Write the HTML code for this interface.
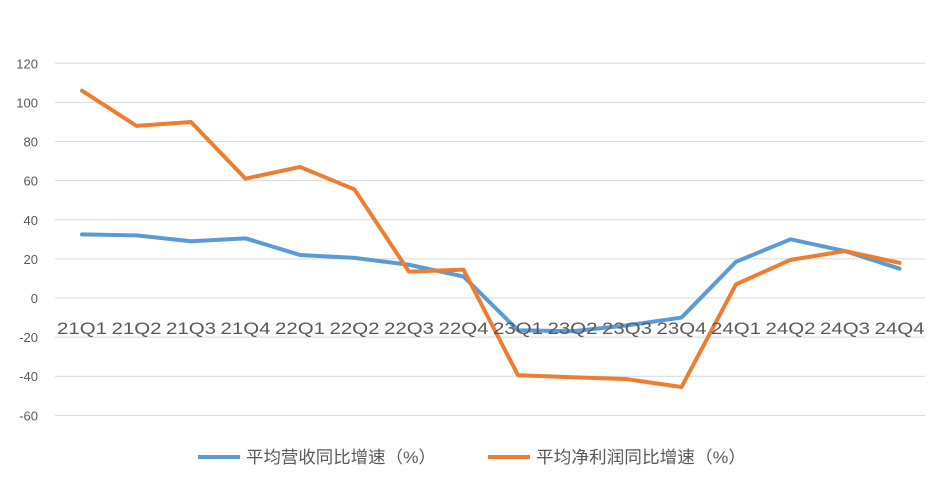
<!DOCTYPE html>
<html><head><meta charset="utf-8"><style>
body{margin:0;background:#fff}
text{font-family:"Liberation Sans","Noto Sans CJK SC",sans-serif}
</style></head><body>
<svg id="chart" width="950" height="490" xmlns="http://www.w3.org/2000/svg">
<rect width="950" height="490" fill="#fff"/>
<g id="grid"></g><g id="ylab"></g><g id="lines"></g><g id="xlab"></g>
<g>
<line x1="198" y1="457" x2="240" y2="457" stroke="#5B9BD5" stroke-width="4"/>
<text x="246" y="463" font-size="17" textLength="190" lengthAdjust="spacingAndGlyphs" fill="#595959">平均营收同比增速（%）</text>
<line x1="488" y1="457" x2="530" y2="457" stroke="#ED7D31" stroke-width="4"/>
<text x="536" y="463" font-size="17" textLength="210" lengthAdjust="spacingAndGlyphs" fill="#595959">平均净利润同比增速（%）</text>
</g>
</svg>
<script>
const categories=["21Q1","21Q2","21Q3","21Q4","22Q1","22Q2","22Q3","22Q4","23Q1","23Q2","23Q3","23Q4","24Q1","24Q2","24Q3","24Q4"];
const revenue=[32.5,32,29,30.5,22,20.5,17,11,-16.5,-17,-14,-10,18.5,30,24,15];
const profit=[106,88,90,61,67,55.5,13.5,14.5,-39.5,-40.5,-41.5,-45.5,7,19.5,24,18];
const yTicks=[120,100,80,60,40,20,0,-20,-40,-60];
const NS="http://www.w3.org/2000/svg";
const y=v=>298-v*1.956;
const x=i=>82+i*54.5;
function mk(t,a,p){const e=document.createElementNS(NS,t);for(const k in a)e.setAttribute(k,a[k]);p.appendChild(e);return e;}
const grid=document.getElementById('grid'),yl=document.getElementById('ylab'),xl=document.getElementById('xlab'),ln=document.getElementById('lines');
yTicks.forEach(v=>{
 const g=mk('line',{x1:55,x2:925,y1:y(v),y2:y(v),stroke:'#d9d9d9','stroke-width':1},grid);
 
 
 const t=mk('text',{x:38,y:y(v)+5,'font-size':13,fill:'#595959','text-anchor':'end'},yl);
 t.textContent=v;
 
 
});
categories.forEach((c,i)=>{
 const t=mk('text',{x:x(i),y:334,'font-size':17,fill:'#595959','text-anchor':'middle',textLength:50,lengthAdjust:'spacingAndGlyphs'},xl);
 t.textContent=c;
 
 
});
function series(d,col,name){
 const p=mk('polyline',{points:d.map((v,i)=>x(i)+','+y(v)).join(' '),fill:'none',stroke:col,'stroke-width':4,'stroke-linejoin':'round','stroke-linecap':'round'},ln);
 
 
}
series(revenue,'#5B9BD5','revenue-growth-line');
series(profit,'#ED7D31','profit-growth-line');
</script>
</body></html>
